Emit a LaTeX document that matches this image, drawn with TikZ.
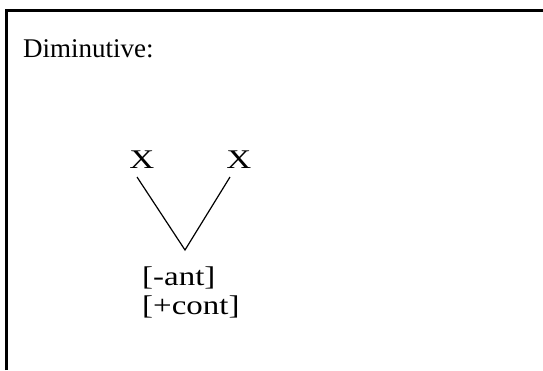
\documentclass[tikz,border=0pt]{standalone}
\usepackage{fontspec}
\setmainfont{Liberation Serif}
\usetikzlibrary{positioning}

\begin{document}
\begin{tikzpicture}[x=1pt, y=-1pt, font=\fontsize{27}{31}\selectfont,
    seg/.style={inner sep=0pt, anchor=base west},
    wide/.style={seg, xscale=1.22},
    branch/.style={line width=1.2pt}]
            \useasboundingbox (0,0) rectangle (543,370);
            % Frame
            \draw[line width=3pt] (6.5,370) -- (6.5,10.5) -- (543,10.5);
            % Heading
            \node[seg] (title) at (23,57) {Diminutive:};
            % Skeletal slots
            \node[wide, xscale=1.05] (x1) at (129,168) {X};
            \node[wide, xscale=1.05] (x2) at (226,168) {X};
            % Features
            \node[wide] (ant) at (142,285) {[-ant]};
            \node[wide] (cont) at (142,314) {[+cont]};
            % Association lines
            \coordinate (joint) at (185,250);
            \coordinate (x1foot) at (137,177);
            \coordinate (x2foot) at (230,177);
            \draw[branch] (x1foot) -- (joint) -- (x2foot);
        \end{tikzpicture}
\end{document}
